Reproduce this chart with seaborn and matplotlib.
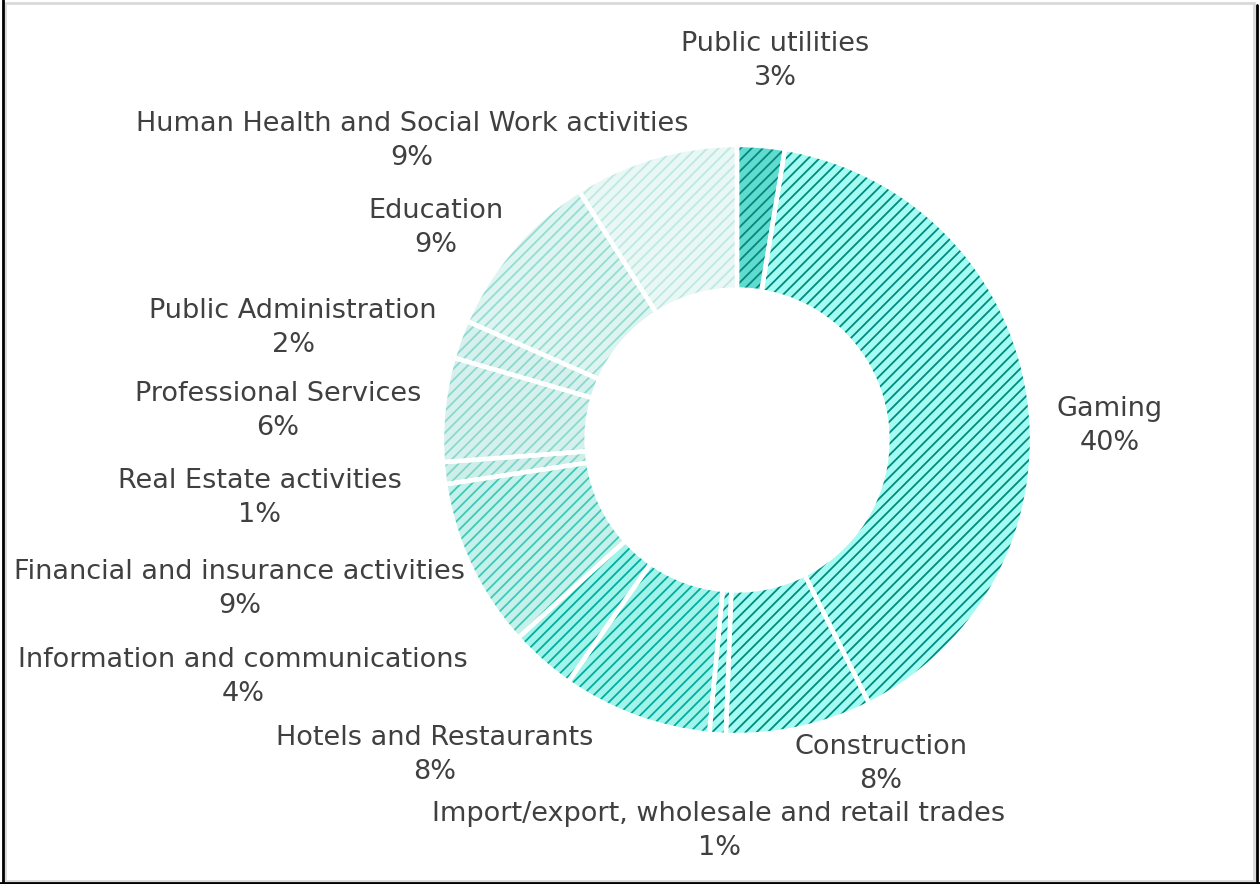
import matplotlib
matplotlib.use("Agg")
import matplotlib.pyplot as plt
import seaborn as sns
import pandas as pd
from matplotlib.lines import Line2D
from matplotlib.patches import Rectangle

sns.set_theme(style="white")
plt.rcParams['font.family'] = ['DejaVu Sans']
plt.rcParams['hatch.linewidth'] = 1.3

# ---- data ----
categories = ["Public utilities", "Gaming", "Construction",
              "Import/export, wholesale and retail trades",
              "Hotels and Restaurants", "Information and communications",
              "Financial and insurance activities", "Real Estate activities",
              "Professional Services", "Public Administration", "Education",
              "Human Health and Social Work activities"]
shares = [2.6, 40.0, 8.0, 0.9, 8.2, 3.6, 9.3, 1.2, 5.7, 2.1, 9.4, 9.0]

# ---- style ----
bg_colors = ["#5fdccf", "#a4fbf1", "#a4fbf1", "#a4fbf1", "#a2f4ea", "#a2f4ea",
             "#c6f1eb", "#cdeee9", "#d6f1ed", "#d6f1ed", "#ddf4f1", "#e9f7f5"]
hatch_colors = ["#06877c", "#008a82", "#008a82", "#008a82", "#00ad9f", "#00ad9f",
                "#3cc9b9", "#7fd6cb", "#8bd9ce", "#8bd9ce", "#94ddd3", "#bde9e2"]
# label centres in axes data units (pie centre = 0,0, radius = 1)
label_pos = [(0.129, 1.285), (1.264, 0.046), (0.488, -1.097), (-0.061, -1.325),
             (-1.024, -1.068), (-1.675, -0.802), (-1.685, -0.505), (-1.617, -0.197),
             (-1.556, 0.097), (-1.505, 0.380), (-1.020, 0.717), (-1.102, 1.012)]

df = pd.DataFrame({"category": categories, "share": shares})

fig = plt.figure(figsize=(12.6, 8.84), dpi=100)
ax = fig.add_axes([0, 0, 1, 1])

scale = 295.0  # px per unit
cx, cy = 737.0, 444.0  # pie centre in px from bottom-left

wedges, _ = ax.pie(df["share"], startangle=90, counterclock=False,
                   radius=1.0, wedgeprops=dict(width=0.49, linewidth=0))
for w, bc, hc in zip(wedges, bg_colors, hatch_colors):
    w.set_facecolor(bc)
    w.set_edgecolor(hc)
    w.set_hatch("///")
    w.set_linewidth(0)

ax.pie(df["share"], startangle=90, counterclock=False, radius=1.0,
       wedgeprops=dict(width=0.49, linewidth=3.2, edgecolor="white", fill=False))

for cat, val, (x, y) in zip(df["category"], df["share"], label_pos):
    ax.text(x, y, f"{cat}\n{round(val):d}%", ha="center", va="center",
            fontsize=19.5, color="#404040", linespacing=1.4)

ax.set_aspect("auto")
ax.set_xlim(-cx / scale, (1260 - cx) / scale)
ax.set_ylim(-cy / scale, (884 - cy) / scale)
ax.axis("off")

# frame
fig.patches.append(Rectangle((5 / 1260, 3 / 884), 1249 / 1260, 878 / 884,
                             transform=fig.transFigure, fill=False,
                             edgecolor="#d9d9d9", linewidth=2))
fig.lines.append(Line2D([3 / 1260, 3 / 1260], [0, 1], transform=fig.transFigure,
                        color="black", linewidth=2))
fig.lines.append(Line2D([1257 / 1260, 1257 / 1260], [0, 879 / 884], transform=fig.transFigure,
                        color="black", linewidth=2))
fig.lines.append(Line2D([0, 1], [1.5 / 884, 1.5 / 884], transform=fig.transFigure,
                        color="black", linewidth=2))

fig.savefig("out.png", dpi=100, facecolor="white")
